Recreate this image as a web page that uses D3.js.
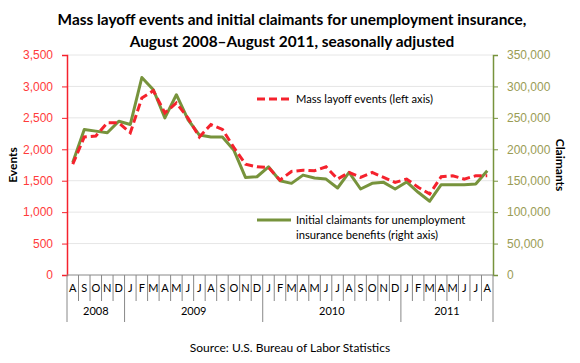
<!DOCTYPE html>
<html>
<head>
<meta charset="utf-8">
<script src="https://cdn.jsdelivr.net/npm/d3@7"></script>
<style>
  body { margin: 0; background: #fff; }
  svg { font-family: Lato, "Open Sans", sans-serif; }
</style>
</head>
<body>
<div id="chart"></div>
<script>
// months from August 2008 to August 2011
const monthLabels = ["A","S","O","N","D",
  "J","F","M","A","M","J","J","A","S","O","N","D",
  "J","F","M","A","M","J","J","A","S","O","N","D",
  "J","F","M","A","M","J","J","A"];
const years = ["2008", "2009", "2010", "2011"];
const monthsPerYear = [5, 12, 12, 8];

const layoffEvents = [1763, 2195, 2210, 2421, 2421, 2263, 2815, 2932, 2579, 2737, 2500, 2195,
  2395, 2316, 2026, 1763, 1721, 1710, 1510, 1647, 1668, 1658, 1721, 1526, 1631, 1553,
  1631, 1553, 1474, 1526, 1395, 1290, 1563, 1579, 1526, 1579, 1579];
const initialClaimants = [179000, 231600, 228900, 226300, 244700, 239500, 314200, 294700,
  250000, 286800, 247400, 222600, 219500, 219500, 198400, 155300, 156300, 172100, 150000,
  145800, 158900, 154200, 152600, 138400, 163100, 136800, 145800, 147400, 136800, 148000,
  131600, 117400, 143700, 143700, 143700, 144700, 165800];

const leftTicks = [0, 500, 1000, 1500, 2000, 2500, 3000, 3500];
const rightTicks = [0, 50000, 100000, 150000, 200000, 250000, 300000, 350000];

const width = 580, height = 363;
const plotLeft = 67, plotRight = 493, plotTop = 55, plotBottom = 275;

const red = "#f5222d";
const green = "#77933c";

const svg = d3.select("#chart").append("svg")
  .attr("width", width)
  .attr("height", height);

const x = d3.scaleBand()
  .domain(d3.range(monthLabels.length))
  .range([plotLeft, plotRight]);
const yL = d3.scaleLinear().domain([0, 3500]).range([plotBottom, plotTop]);
const yR = d3.scaleLinear().domain([0, 350000]).range([plotBottom, plotTop]);

// title
svg.append("text")
  .attr("x", 292).attr("text-anchor", "middle")
  .attr("font-weight", "bold").attr("font-size", 15.4)
  .selectAll("tspan")
  .data(["Mass layoff events and initial claimants for unemployment insurance,",
         "August 2008\u2013August 2011, seasonally adjusted"])
  .enter().append("tspan")
  .attr("x", 292)
  .attr("y", (d, i) => 25 + i * 22)
  .text(d => d);

// gridlines
svg.append("g")
  .selectAll("line")
  .data(leftTicks.filter(d => d > 0))
  .enter().append("line")
  .attr("x1", plotLeft).attr("x2", plotRight)
  .attr("y1", d => yL(d)).attr("y2", d => yL(d))
  .attr("stroke", "#e6e6e6");

// left axis
const axL = svg.append("g")
  .attr("transform", `translate(${plotLeft},0)`)
  .call(d3.axisLeft(yL).tickValues(leftTicks).tickSize(5).tickPadding(9)
    .tickFormat(d3.format(",")));
axL.select(".domain").attr("stroke", red).attr("stroke-width", 1.5);
axL.selectAll(".tick line").attr("stroke", red);
axL.selectAll(".tick text").attr("fill", "#ff3b3b").attr("font-size", 12);

// right axis
const axR = svg.append("g")
  .attr("transform", `translate(${plotRight},0)`)
  .call(d3.axisRight(yR).tickValues(rightTicks).tickSize(5).tickPadding(9)
    .tickFormat(d3.format(",")));
axR.select(".domain").attr("stroke", green).attr("stroke-width", 1.5);
axR.selectAll(".tick line").attr("stroke", green);
axR.selectAll(".tick text").attr("fill", "#9a9c55").attr("font-size", 12);

// axis titles
svg.append("text")
  .attr("transform", `translate(17,${(plotTop + plotBottom) / 2}) rotate(-90)`)
  .attr("text-anchor", "middle").attr("font-weight", "bold").attr("font-size", 12)
  .text("Events");
svg.append("text")
  .attr("transform", `translate(556,${(plotTop + plotBottom) / 2}) rotate(90)`)
  .attr("text-anchor", "middle").attr("font-weight", "bold").attr("font-size", 12)
  .text("Claimants");

// category axis
const cat = svg.append("g");
cat.append("line")
  .attr("x1", plotLeft).attr("x2", plotRight)
  .attr("y1", plotBottom).attr("y2", plotBottom)
  .attr("stroke", "#888");
const yearStarts = [0];
monthsPerYear.forEach((n, i) => yearStarts.push(yearStarts[i] + n));
const bounds = d3.range(monthLabels.length + 1);
cat.selectAll("line.sep")
  .data(bounds)
  .enter().append("line")
  .attr("class", "sep")
  .attr("x1", i => i < monthLabels.length ? x(i) : plotRight)
  .attr("x2", i => i < monthLabels.length ? x(i) : plotRight)
  .attr("y1", plotBottom)
  .attr("y2", i => yearStarts.includes(i) ? 322 : 301)
  .attr("stroke", "#888");
cat.selectAll("text.m")
  .data(monthLabels)
  .enter().append("text")
  .attr("class", "m")
  .attr("x", (d, i) => x(i) + x.bandwidth() / 2)
  .attr("y", 292)
  .attr("text-anchor", "middle").attr("font-size", 11)
  .text(d => d);
cat.selectAll("text.y")
  .data(years)
  .enter().append("text")
  .attr("class", "y")
  .attr("x", (d, i) => {
    const a = x(yearStarts[i]);
    const b = yearStarts[i + 1] < monthLabels.length ? x(yearStarts[i + 1]) : plotRight;
    return (a + b) / 2;
  })
  .attr("y", 315)
  .attr("text-anchor", "middle").attr("font-size", 11)
  .text(d => d);

// lines
const cx = i => x(i) + x.bandwidth() / 2;
svg.append("path")
  .datum(initialClaimants)
  .attr("fill", "none")
  .attr("stroke", green).attr("stroke-width", 3)
  .attr("stroke-linejoin", "round")
  .attr("d", d3.line().x((d, i) => cx(i)).y(d => yR(d)));
svg.append("path")
  .datum(layoffEvents)
  .attr("fill", "none")
  .attr("stroke", red).attr("stroke-width", 3)
  .attr("stroke-dasharray", "8,4")
  .attr("d", d3.line().x((d, i) => cx(i)).y(d => yL(d)));

// legend
const legend = svg.append("g");
legend.append("line")
  .attr("x1", 257).attr("x2", 291).attr("y1", 99).attr("y2", 99)
  .attr("stroke", red).attr("stroke-width", 3).attr("stroke-dasharray", "8,4");
legend.append("text")
  .attr("x", 296).attr("y", 103).attr("font-size", 11.2)
  .text("Mass layoff events (left axis)");
legend.append("line")
  .attr("x1", 257).attr("x2", 291).attr("y1", 220).attr("y2", 220)
  .attr("stroke", green).attr("stroke-width", 3);
legend.append("text")
  .attr("x", 296).attr("font-size", 11.2)
  .selectAll("tspan")
  .data(["Initial claimants for unemployment", "insurance benefits (right axis)"])
  .enter().append("tspan")
  .attr("x", 296)
  .attr("y", (d, i) => 224 + i * 15)
  .text(d => d);

// source
svg.append("text")
  .attr("x", 290).attr("y", 352).attr("text-anchor", "middle").attr("font-size", 12)
  .text("Source: U.S. Bureau of Labor Statistics");
</script>
</body>
</html>
